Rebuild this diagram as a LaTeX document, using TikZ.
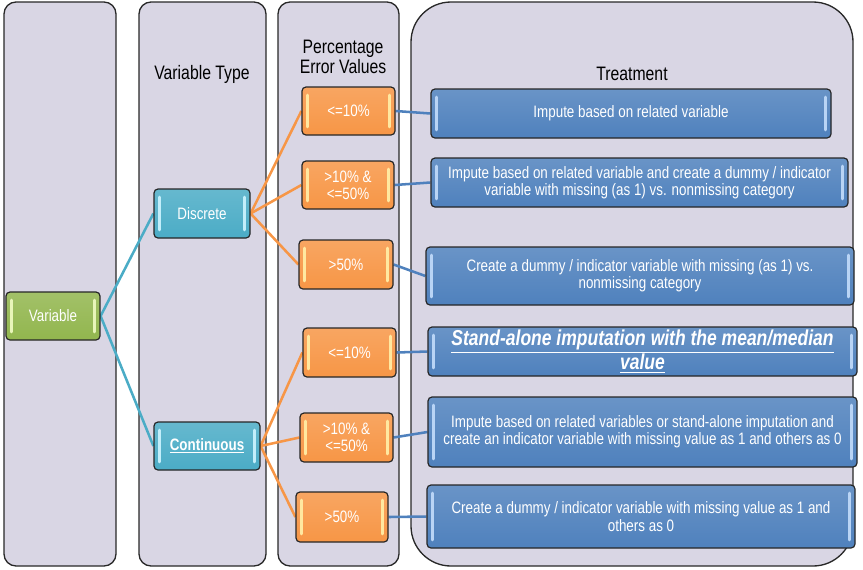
\documentclass[tikz,border=0pt]{standalone}
\usepackage{fontspec}
\setmainfont{Liberation Sans}[FakeStretch=0.81]
\usetikzlibrary{backgrounds}
\definecolor{panelfill}{RGB}{217,214,228}
\definecolor{pborder}{RGB}{40,40,40}
\definecolor{cgreen}{RGB}{146,182,78}
\definecolor{cteal}{RGB}{75,172,198}
\definecolor{corange}{RGB}{247,150,70}
\definecolor{cblue}{RGB}{79,129,189}
\definecolor{hlgreen}{RGB}{232,245,185}
\definecolor{hlteal}{RGB}{195,238,250}
\definecolor{hlorange}{RGB}{255,232,160}
\definecolor{hlblue}{RGB}{185,212,245}
\tikzset{
  panel/.style={draw=pborder, line width=1pt, fill=panelfill},
  title/.style={font=\fontsize{14.6}{15}\selectfont, align=center, text=black},
  box/.style 2 args={draw=black!85, line width=0.9pt, rounded corners=3pt,
    top color=#1!85!white, bottom color=#1, text=white, align=center, inner sep=1pt,
    font=\fontsize{12.4}{13}\selectfont,
    path picture={
      \draw[#2, line width=2.2pt, line cap=round]
        ([shift={(3.8pt,-6pt)}]path picture bounding box.north west) --
        ([shift={(3.8pt,6pt)}]path picture bounding box.south west);
      \draw[#2, line width=2.2pt, line cap=round]
        ([shift={(-3.8pt,-6pt)}]path picture bounding box.north east) --
        ([shift={(-3.8pt,6pt)}]path picture bounding box.south east);
    }},
  conn/.style={line width=1.9pt},
}
\begin{document}
\begin{tikzpicture}[x=0.75pt,y=-0.75pt]
\useasboundingbox (0,0) rectangle (863,569);

% titles
\node[title] (tvt) at (202,74) {Variable Type};
\node[title] (tpe) at (343,57) {Percentage\\Error Values};
\node[title] (ttr) at (632,74) {Treatment};

% column 1 and 2
\node[box={cgreen}{hlgreen}, minimum width=70.5pt, minimum height=36pt] (var) at (53,316) {Variable};
\node[box={cteal}{hlteal}, minimum width=72pt, minimum height=36.75pt] (disc) at (202,213.5) {Discrete};
\node[box={cteal}{hlteal}, minimum width=79.5pt, minimum height=36pt] (cont) at (207,446) {\textbf{\underline{Continuous}}};

% column 3
\node[box={corange}{hlorange}, minimum width=69.75pt, minimum height=36pt] (o1) at (348.5,111) {<=10\%};
\node[box={corange}{hlorange}, minimum width=69pt, minimum height=36pt] (o2) at (348,185) {>10\% \&\\<=50\%};
\node[box={corange}{hlorange}, minimum width=70.5pt, minimum height=36.75pt] (o3) at (346,264.5) {>50\%};
\node[box={corange}{hlorange}, minimum width=69.75pt, minimum height=36.75pt] (o4) at (349.5,352.5) {<=10\%};
\node[box={corange}{hlorange}, minimum width=69.75pt, minimum height=36.75pt] (o5) at (346.5,437.5) {>10\% \&\\<=50\%};
\node[box={corange}{hlorange}, minimum width=69pt, minimum height=37.5pt] (o6) at (342,517) {>50\%};

% column 4
\node[box={cblue}{hlblue}, minimum width=300pt, minimum height=36.75pt] (b1) at (631,113.5) {Impute based on related variable};
\node[box={cblue}{hlblue}, minimum width=312.75pt, minimum height=36.75pt] (b2) at (639.5,182.5) {Impute based on related variable and create a dummy / indicator\\variable with missing (as 1) vs. nonmissing category};
\node[box={cblue}{hlblue}, minimum width=321pt, minimum height=43.5pt] (b3) at (640,276) {Create a dummy / indicator variable with missing (as 1) vs.\\nonmissing category};
\node[box={cblue}{hlblue}, minimum width=321.75pt, minimum height=36.75pt, font=\bfseries\itshape\fontsize{16.2}{17}\selectfont] (b4) at (642.5,351.5) {\underline{Stand-alone imputation with the mean/median}\\\underline{value}};
\node[box={cblue}{hlblue}, minimum width=321.75pt, minimum height=52.5pt] (b5) at (642.5,432) {Impute based on related variables or stand-alone imputation and\\create an indicator variable with missing value as 1 and others as 0};
\node[box={cblue}{hlblue}, minimum width=321pt, minimum height=47.25pt] (b6) at (641,516.5) {Create a dummy / indicator variable with missing value as 1 and\\others as 0};

\begin{scope}[on background layer]
  \draw[panel, rounded corners=9pt] (4,2) rectangle (116,566);
  \draw[panel, rounded corners=9pt] (139,2) rectangle (266,566);
  \draw[panel, rounded corners=9pt] (278,2) rectangle (399,566);
  \draw[panel, rounded corners=30pt] (411,2) rectangle (853,566);

  \draw[conn, cteal] (var.east) -- (disc.west);
  \draw[conn, cteal] (var.east) -- (cont.west);
  \foreach \o in {o1,o2,o3} \draw[conn, corange] (disc.east) -- (\o.west);
  \foreach \o in {o4,o5,o6} \draw[conn, corange] (cont.east) -- (\o.west);
  \draw[conn, cblue] (o1.east) -- (b1.west);
  \draw[conn, cblue] (o2.east) -- (b2.west);
  \draw[conn, cblue] (o3.east) -- (b3.west);
  \draw[conn, cblue] (o4.east) -- (b4.west);
  \draw[conn, cblue] (o5.east) -- (b5.west);
  \draw[conn, cblue] (o6.east) -- (b6.west);
\end{scope}
\end{tikzpicture}
\end{document}
